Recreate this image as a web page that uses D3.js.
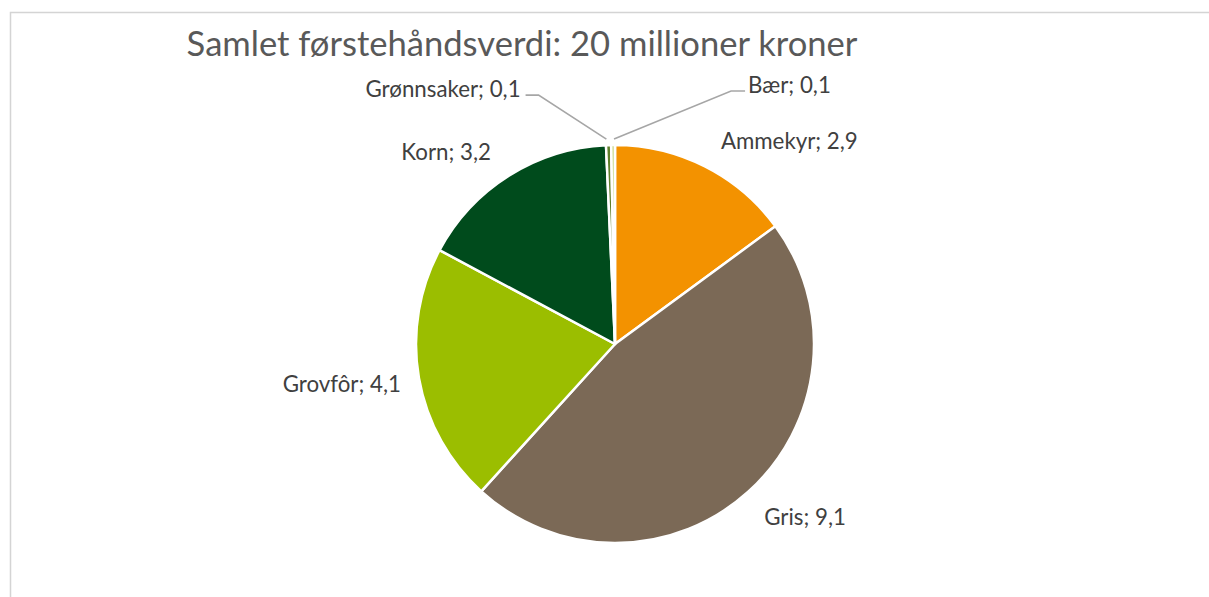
<!DOCTYPE html>
<html>
<head>
<meta charset="utf-8">
<script src="https://cdn.jsdelivr.net/npm/d3@7"></script>
<style>
  html, body { margin: 0; padding: 0; background: #ffffff; }
  svg { display: block; }
  text { font-family: Lato, "Open Sans", sans-serif; }
</style>
</head>
<body>
<svg id="chart" width="1209" height="597"></svg>
<script>
// ---- data ----
const title = "Samlet førstehåndsverdi: 20 millioner kroner";
const categories = ["Ammekyr", "Gris", "Grovfôr", "Korn", "Grønnsaker", "Bær"];
const values = [2.9, 9.1, 4.1, 3.2, 0.08, 0.06];
const colors = ["#F39200", "#7B6956", "#9BBE00", "#004B1C", "#5E7F2A", "#C9D98A"];
// small slices that get a leader line (label offset from slice edge, layout only)
const leaderOffsets = { "Grønnsaker": [-88, -56], "Bær": [135, -60] };

// ---- layout ----
const W = 1209, H = 597;
const cx = 615, cy = 344, R = 199;
const labelSize = 22.3;
const svg = d3.select("#chart");

// frame
svg.append("rect")
  .attr("x", 10.5).attr("y", 12.5)
  .attr("width", W + 20).attr("height", H + 20)
  .attr("fill", "#ffffff").attr("stroke", "#d4d4d4").attr("stroke-width", 1.5);

svg.append("text")
  .attr("x", 522).attr("y", 56)
  .attr("text-anchor", "middle")
  .attr("font-size", 34.6)
  .attr("fill", "#595959")
  .text(title);

const data = categories.map((c, i) => ({ name: c, value: values[i], color: colors[i] }));
const pie = d3.pie().value(d => d.value).sort(null);
const arcs = pie(data);
const arc = d3.arc().innerRadius(0).outerRadius(R);

const g = svg.append("g").attr("transform", `translate(${cx},${cy})`);
g.selectAll("path.slice").data(arcs).join("path")
  .attr("class", "slice")
  .attr("d", arc)
  .attr("fill", d => d.data.color)
  .attr("stroke", "#ffffff")
  .attr("stroke-width", 2.5)
  .attr("stroke-linejoin", "round");

const fmt = v => d3.format(".1f")(v).replace(".", ",");

arcs.forEach(a => {
  const mid = (a.startAngle + a.endAngle) / 2;
  const s = Math.sin(mid), c = Math.cos(mid);
  const ex = R * s, ey = -R * c;
  const label = `${a.data.name}; ${fmt(a.data.value)}`;
  const off = leaderOffsets[a.data.name];
  if (off) {
    const lx = ex + off[0], ly = ey + off[1];
    const right = off[0] > 0;
    const start = [R * 1.03 * s + (right ? 1 : -2), -R * 1.03 * c];
    const elbow = [right ? lx - 17 : lx + 18, ly + 6];
    const end = [right ? lx - 3 : lx + 5, ly + 6];
    g.append("polyline")
      .attr("points", [start, elbow, end].map(p => p.join(",")).join(" "))
      .attr("fill", "none").attr("stroke", "#a6a6a6").attr("stroke-width", 1.6);
    g.append("text")
      .attr("x", lx).attr("y", ly)
      .attr("dy", "0.35em")
      .attr("text-anchor", right ? "start" : "end")
      .attr("font-size", labelSize).attr("fill", "#404040")
      .text(label);
  } else {
    const lx = ex + (s >= 0 ? 16 : -18);
    const ly = ey - c * (c < 0 ? 34 : 28);
    g.append("text")
      .attr("x", lx).attr("y", ly)
      .attr("dy", "0.35em")
      .attr("text-anchor", s >= 0 ? "start" : "end")
      .attr("font-size", labelSize).attr("fill", "#404040")
      .text(label);
  }
});
</script>
</body>
</html>
